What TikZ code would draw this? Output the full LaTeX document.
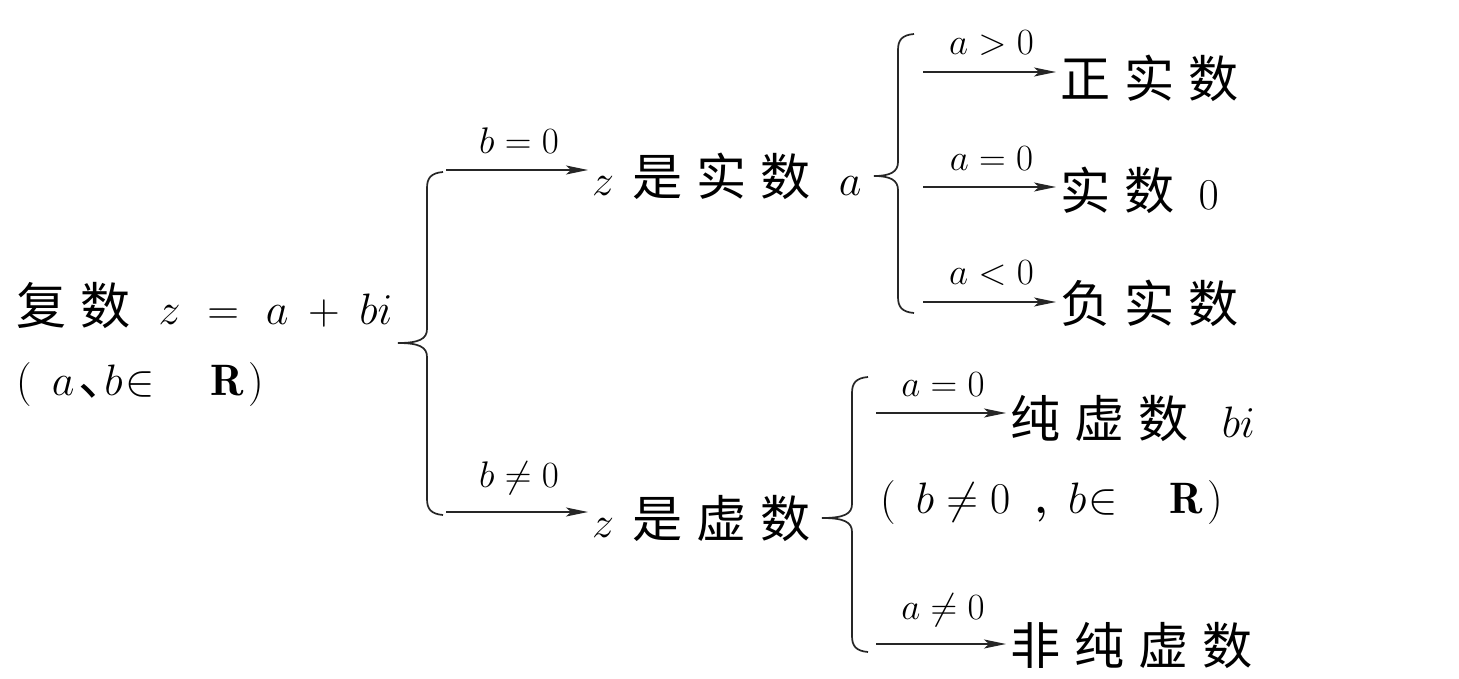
\RequirePackage{fix-cm}
\documentclass[tikz,border=0pt]{standalone}
\usepackage{fontspec}
\newfontfamily\cjk[Scale=1.14,LetterSpace=28]{Noto Sans CJK SC}
\newfontfamily\cjkn[Scale=1.14]{Noto Sans CJK SC}
\usetikzlibrary{arrows.meta}
\tikzset{
  txt/.style={anchor=west,inner sep=0pt,font=\fontsize{44}{50}\selectfont},
  lbl/.style={font=\fontsize{37}{42}\selectfont,inner sep=0pt},
  arr/.style={draw=black!85,line width=1.7pt,shorten >=4pt,-{Stealth[length=22pt,width=9pt,inset=5pt]}},
  bracestyle/.style={draw=black!85,line width=1.7pt},
}
\newcommand\bracepath[5]{%
  \draw[bracestyle] (#1+16,#2) .. controls (#1+4,#2+1) and (#1,#2+6) .. (#1,#2+16)
    -- (#1,#3-14) .. controls (#1,#3-4) and (#1-8,#3) .. (#5,#3)
    .. controls (#1-8,#3) and (#1,#3+4) .. (#1,#3+14)
    -- (#1,#4-16) .. controls (#1,#4-6) and (#1+4,#4-1) .. (#1+16,#4);}
\begin{document}
\begin{tikzpicture}[x=1pt,y=-1pt]
\useasboundingbox[fill=white] (0,0) rectangle (1459,679);

% root
\node[txt] (root) at (16,305) {{\cjk 复数}\hspace{28pt}$z\mkern6mu=\mkern6mu a\mkern4mu+\mkern4mu bi$};
\node[txt] (rootb) at (16,385) {(\hspace{20pt}$a$\hspace{4pt}\makebox[26pt][l]{\cjkn 、}$b\mkern-4mu\in\mkern18mu\mathbf{R}$\hspace{4pt})};

% main brace
\bracepath{427}{172}{343}{515}{398}

% b = 0
\coordinate (s1) at (446,170);
\node[txt] (real) at (592,176) {$z$\hspace{18pt}{\cjk 是实数}\hspace{28pt}$a$};
\draw[arr] (s1) -- node[lbl,above=16pt]{$b=0$} (s1 -| real.west);

% b != 0
\coordinate (s2) at (446,512);
\node[txt] (imag) at (592,518) {$z$\hspace{18pt}{\cjk 是虚数}};
\draw[arr] (s2) -- node[lbl,above=16pt]{$b\neq0$} (s2 -| imag.west);

% brace for real
\bracepath{898}{34}{176}{313}{874}
\coordinate (r1) at (923,72);
\coordinate (r2) at (923,187);
\coordinate (r3) at (923,302);
\node[txt] (pos) at (1060,78) {\cjk 正实数};
\node[txt] (zero) at (1060,190) {{\cjk 实数}\hspace{24pt}$0$};
\node[txt] (neg) at (1060,303) {\cjk 负实数};
\draw[arr] (r1) -- node[lbl,above=16pt]{$a>0$} (r1 -| pos.west);
\draw[arr] (r2) -- node[lbl,above=16pt]{$a=0$} (r2 -| zero.west);
\draw[arr] (r3) -- node[lbl,above=16pt]{$a<0$} (r3 -| neg.west);

% brace for imaginary
\bracepath{852}{377}{518}{652}{822}
\coordinate (i1) at (876,413);
\coordinate (i2) at (876,644);
\node[txt] (pure) at (1010,418) {{\cjk 纯虚数}\hspace{33pt}$bi$};
\node[txt] (purec) at (880,503) {(\hspace{20pt}$b\neq0$\hspace{24pt}\textbf{,}\hspace{20pt}$b\mkern-4mu\in\mkern16mu\mathbf{R}$\hspace{4pt})};
\node[txt] (npure) at (1010,645) {\cjk 非纯虚数};
\draw[arr] (i1) -- node[lbl,above=16pt]{$a=0$} (i1 -| pure.west);
\draw[arr] (i2) -- node[lbl,above=16pt]{$a\neq0$} (i2 -| npure.west);
\end{tikzpicture}
\end{document}
